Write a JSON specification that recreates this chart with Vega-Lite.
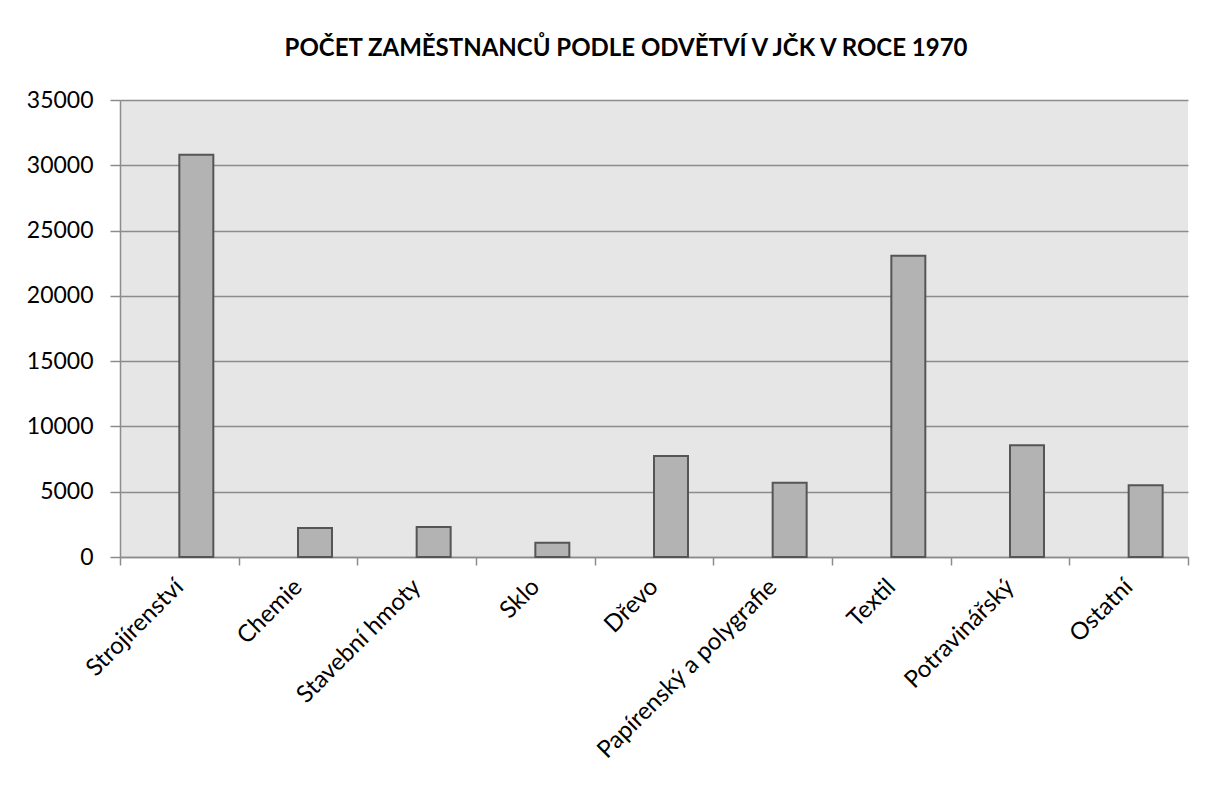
{
  "$schema": "https://vega.github.io/schema/vega-lite/v6.json",
  "width": 1068,
  "height": 457,
  "autosize": {"type": "none"},
  "padding": {"left": 120, "top": 100, "right": 18, "bottom": 228},
  "background": "white",
  "title": {
    "text": "POČET ZAMĚSTNANCŮ PODLE ODVĚTVÍ V JČK V ROCE 1970",
    "font": "Lato",
    "fontSize": 24,
    "fontWeight": "bold",
    "color": "#000000",
    "anchor": "middle",
    "dx": -28,
    "offset": 28
  },
  "data": {
    "values": [
      {"odvetvi": "Strojírenství", "serie": "B", "pocet": 30800},
      {"odvetvi": "Chemie", "serie": "B", "pocet": 2220},
      {"odvetvi": "Stavební hmoty", "serie": "B", "pocet": 2300},
      {"odvetvi": "Sklo", "serie": "B", "pocet": 1100},
      {"odvetvi": "Dřevo", "serie": "B", "pocet": 7730},
      {"odvetvi": "Papírenský a polygrafie", "serie": "B", "pocet": 5690},
      {"odvetvi": "Textil", "serie": "B", "pocet": 23070},
      {"odvetvi": "Potravinářský", "serie": "B", "pocet": 8550},
      {"odvetvi": "Ostatní", "serie": "B", "pocet": 5490}
    ]
  },
  "mark": {"type": "bar", "fill": "#b3b3b3", "stroke": "#555555", "strokeWidth": 2},
  "encoding": {
    "x": {
      "field": "odvetvi",
      "type": "nominal",
      "sort": null,
      "scale": {"paddingInner": 0, "paddingOuter": 0},
      "axis": {
        "title": null,
        "labelAngle": -45,
        "labelAlign": "right",
        "labelBaseline": "middle",
        "labelFont": "Lato",
        "labelFontSize": 24,
        "labelColor": "#000000",
        "labelLimit": 0,
        "tickBand": "extent",
        "tickColor": "#8c8c8c",
        "tickSize": 8,
        "tickWidth": 1.5,
        "domainColor": "#8c8c8c",
        "domainWidth": 1.5,
        "labelPadding": 18,
        "grid": false
      }
    },
    "xOffset": {
      "field": "serie",
      "type": "nominal",
      "scale": {"domain": ["A", "B"], "paddingInner": 0, "paddingOuter": 0.7456}
    },
    "y": {
      "field": "pocet",
      "type": "quantitative",
      "scale": {"domain": [0, 35000], "nice": false},
      "axis": {
        "title": null,
        "values": [0, 5000, 10000, 15000, 20000, 25000, 30000, 35000],
        "format": "d",
        "labelFont": "Lato",
        "labelFontSize": 23,
        "labelColor": "#000000",
        "labelPadding": 17,
        "tickColor": "#8c8c8c",
        "tickSize": 10,
        "tickWidth": 1.5,
        "domainColor": "#8c8c8c",
        "domainWidth": 1.5,
        "grid": true,
        "gridColor": "#8c8c8c",
        "gridWidth": 1.5
      }
    }
  },
  "config": {
    "view": {"fill": "#e6e6e6", "stroke": null}
  }
}
